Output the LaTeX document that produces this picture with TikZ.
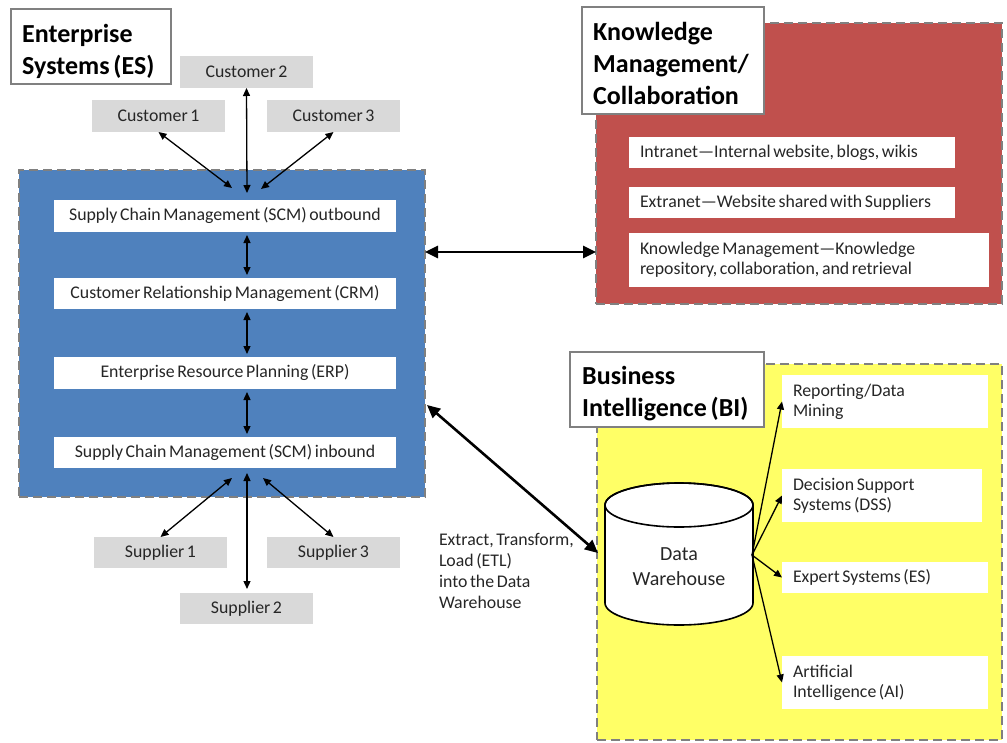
\documentclass[tikz,border=0pt]{standalone}
\usepackage{fontspec}
\setmainfont{Carlito}[WordSpace=0.65]
\usetikzlibrary{arrows.meta}
\definecolor{esblue}{HTML}{4F81BD}
\definecolor{kmred}{HTML}{C0504D}
\definecolor{biyellow}{HTML}{FFFF66}
\definecolor{boxgray}{HTML}{D9D9D9}
\definecolor{bordergray}{HTML}{808080}
\definecolor{txt}{HTML}{262626}
\begin{document}
\begin{tikzpicture}[x=1pt,y=-1pt,
  region/.style={draw=bordergray, line width=2.5pt, dash pattern=on 9pt off 5pt, inner sep=0pt, outer sep=0pt},
  titlebox/.style={draw=bordergray, line width=1.6pt, fill=white, inner sep=0pt, outer sep=0pt, anchor=north west},
  titletext/.style={align=left, text=black, font=\fontsize{26}{32}\selectfont\bfseries, inner sep=0pt, anchor=north west},
  plain/.style={inner sep=0pt, outer sep=0pt, font=\fontsize{17.8}{20.5}\selectfont, text=txt},
  wbox/.style={plain, fill=white},
  gbox/.style={plain, fill=boxgray},
  lbox/.style={wbox, align=flush left, inner xsep=11pt},
  twoline/.style={font=\fontsize{17.8}{20}\selectfont},
  thinboth/.style={line width=1.3pt, {Triangle[length=8pt,width=7pt]}-{Triangle[length=8pt,width=7pt]}},
  thinone/.style={line width=1.3pt, -{Triangle[length=8pt,width=7pt]}},
  thickboth/.style={line width=2.6pt, {Triangle[length=13pt,width=12pt]}-{Triangle[length=13pt,width=12pt]}}
]
\useasboundingbox (0,0) rectangle (1007,742);

% ---------- regions ----------
\node[region, fill=esblue, minimum width=406pt, minimum height=327pt] (blue) at (222,333.5) {};
\node[region, fill=kmred, minimum width=406pt, minimum height=281pt] (red) at (799,163.5) {};
\node[region, fill=biyellow, minimum width=405pt, minimum height=376pt] (yellow) at (799.5,552) {};

% ---------- titles ----------
\node[titlebox, minimum width=160pt, minimum height=75pt] (estitle) at (11,9) {};
\node[titletext] (estitletext) at (22,24) {Enterprise\\Systems (ES)};
\node[titlebox, minimum width=182pt, minimum height=107pt] (kmtitle) at (582,7) {};
\node[titletext] (kmtitletext) at (593,22) {Knowledge\\Management/\\Collaboration};
\node[titlebox, minimum width=194pt, minimum height=75pt] (bititle) at (570,352) {};
\node[titletext] (bititletext) at (582,366) {Business\\Intelligence (BI)};

% ---------- customers ----------
\node[gbox, minimum width=133pt, minimum height=32pt] (cust2) at (246.5,72) {Customer 2};
\node[gbox, minimum width=133pt, minimum height=32pt] (cust1) at (158.5,116) {Customer 1};
\node[gbox, minimum width=133pt, minimum height=32pt] (cust3) at (333.5,116) {Customer 3};

% ---------- ES boxes ----------
\node[wbox, minimum width=342pt, minimum height=32pt] (scmout) at (225,216) {Supply Chain Management (SCM) outbound};
\node[wbox, minimum width=342pt, minimum height=31pt] (crm) at (225,293.5) {Customer Relationship Management (CRM)};
\node[wbox, minimum width=342pt, minimum height=32pt] (erp) at (225,373) {Enterprise Resource Planning (ERP)};
\node[wbox, minimum width=342pt, minimum height=31pt] (scmin) at (225,452.5) {Supply Chain Management (SCM) inbound};

% ---------- suppliers ----------
\node[gbox, minimum width=133pt, minimum height=31pt] (sup1) at (160.5,552.5) {Supplier 1};
\node[gbox, minimum width=133pt, minimum height=31pt] (sup3) at (333.5,552.5) {Supplier 3};
\node[gbox, minimum width=133pt, minimum height=31pt] (sup2) at (246.5,608.5) {Supplier 2};

% ---------- KM boxes ----------
\node[lbox, minimum width=326pt, minimum height=31pt, text width=304pt] (intra) at (792,152.5) {Intranet—Internal website, blogs, wikis};
\node[lbox, minimum width=326pt, minimum height=31pt, text width=304pt] (extra) at (792,202.5) {Extranet—Website shared with Suppliers};
\node[lbox, twoline, minimum width=360pt, minimum height=54pt, text width=338pt] (kmbox) at (809,260) {Knowledge Management—Knowledge\\repository, collaboration, and retrieval};

% ---------- BI boxes ----------
\node[lbox, twoline, minimum width=206pt, minimum height=53pt, text width=184pt] (report) at (885,401.5) {Reporting/Data\\Mining};
\node[lbox, twoline, minimum width=200pt, minimum height=53pt, text width=178pt] (dss) at (882,495.5) {Decision Support\\Systems (DSS)};
\node[lbox, minimum width=206pt, minimum height=31pt, text width=184pt] (expert) at (885,577.5) {Expert Systems (ES)};
\node[lbox, twoline, minimum width=206pt, minimum height=53pt, text width=184pt] (ai) at (885,682.5) {Artificial\\Intelligence (AI)};

% ---------- data warehouse cylinder ----------
\path[draw=black, line width=1.6pt, fill=white] (605,505) -- (605,603)
  arc[start angle=180, end angle=0, x radius=74, y radius=22] -- (753,505)
  arc[start angle=0, end angle=-180, x radius=74, y radius=22] -- cycle;
\draw[line width=1.6pt] (679,505) ellipse[x radius=74, y radius=22];
\node[plain, align=center, font=\fontsize{20}{25}\selectfont] (dw) at (679,567) {Data\\Warehouse};
\coordinate (dwout) at (752,555);

% ---------- ETL label ----------
\node[plain, align=left, anchor=north west, font=\fontsize{17.8}{21}\selectfont] (etl) at (439,533) {Extract, Transform,\\Load (ETL)\\into the Data\\Warehouse};

% ---------- connectors: customers ----------
\coordinate (hubA) at (232,188);
\coordinate (hubB) at (247,193);
\coordinate (hubC) at (261,189);
\draw[thinboth] (cust1.south) -- (hubA);
\draw[thinboth] (cust2.south) -- (hubB);
\draw[thinboth] (cust3.south) -- (hubC);

% ---------- connectors: ES stack ----------
\draw[thinboth, shorten <=3pt, shorten >=3pt] (scmout.south -| hubB) -- (crm.north -| hubB);
\draw[thinboth, shorten <=3pt, shorten >=3pt] (crm.south -| hubB) -- (erp.north -| hubB);
\draw[thinboth, shorten <=3pt, shorten >=3pt] (erp.south -| hubB) -- (scmin.north -| hubB);

% ---------- connectors: suppliers ----------
\coordinate (hubD) at (232,478);
\coordinate (hubE) at (247,473);
\coordinate (hubF) at (263,478);
\draw[thinboth] (hubD) -- (sup1.north);
\draw[thinboth, shorten >=4pt] (hubE) -- (sup2.north -| hubE);
\draw[thinboth] (hubF) -- (sup3.north);

% ---------- connectors: between regions ----------
\coordinate (brY) at (0,252);
\draw[thickboth] (blue.east |- brY) -- (red.west |- brY);
\coordinate (etlA) at (427,405);
\coordinate (etlB) at (598,553);
\draw[thickboth] (etlA) -- (etlB);

% ---------- connectors: data warehouse ----------
\draw[thinone] (dwout) -- (report.west);
\draw[thinone] (dwout) -- (dss.west);
\draw[thinone] (dwout) -- (expert.west);
\draw[thinone] (dwout) -- (ai.west);
\end{tikzpicture}
\end{document}
